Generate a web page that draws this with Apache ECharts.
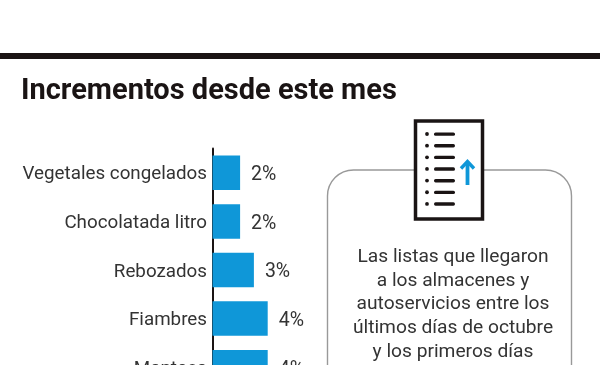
<!DOCTYPE html>
<html><head><meta charset="utf-8">
<style>html,body{margin:0;padding:0;background:#fff}#c{width:600px;height:365px}</style>
<script src="https://cdn.jsdelivr.net/npm/echarts@6/dist/echarts.min.js"></script>
</head><body><div id="c"></div>
<script>
const titleText = 'Incrementos desde este mes';
const categories = ['Vegetales congelados','Chocolatada litro','Rebozados','Fiambres','Manteca'];
const values = [2,2,3,4,4];
const noteLines = ['Las listas que llegaron','a los almacenes y','autoservicios entre los','últimos días de octubre','y los primeros días'];
const FONT = 'Roboto';
const INK = '#1a1414', TXT = '#333333', BLUE = '#0f97d8';
const chart = echarts.init(document.getElementById('c'), null, {renderer:'canvas'});
const iconRows = [0,1,2,3,4,5,6];
const graphic = [
  {type:'rect', shape:{x:0,y:53,width:600,height:6}, style:{fill:INK}},
  {type:'text', x:21, y:92, style:{text:titleText, fill:INK, font:'bold 29px '+FONT, textVerticalAlign:'middle'}},
  {type:'rect', shape:{x:327.5,y:170,width:244,height:260,r:26}, style:{fill:'#fff',stroke:'#999999',lineWidth:1.4}},
  {type:'rect', shape:{x:415.5,y:121,width:67,height:98}, style:{fill:'#fff',stroke:INK,lineWidth:3.5}},
];
iconRows.forEach(i=>{
  const y = 134 + i*11.65;
  graphic.push({type:'circle', shape:{cx:427,cy:y,r:1.9}, style:{fill:INK}});
  graphic.push({type:'rect', shape:{x:434,y:y-1.6,width:21,height:3.4,r:1.6}, style:{fill:INK}});
});
graphic.push({type:'polyline', shape:{points:[[467.5,185],[467.5,163]]}, style:{stroke:BLUE,lineWidth:3.8,fill:null}});
graphic.push({type:'polyline', shape:{points:[[461,168.5],[467.5,161.5],[474,168.5]]}, style:{stroke:BLUE,lineWidth:3.4,fill:null}});
noteLines.forEach((t,i)=>graphic.push({type:'text', x:453, y:257+i*23.7,
  style:{text:t, fill:TXT, font:'19.2px '+FONT, textAlign:'center', textVerticalAlign:'middle'}}));
chart.setOption({
  animation:false,
  backgroundColor:'#fff',
  grid:{left:212.5,top:148.5,width:138,height:243,outerBoundsMode:'none'},
  xAxis:{type:'value',min:0,max:10,show:false},
  yAxis:{type:'category',inverse:true,data:categories,
    axisLine:{show:true,onZero:false,lineStyle:{color:INK,width:2}},
    axisTick:{show:false},
    axisLabel:{margin:5.5,formatter:v=>'{a|'+v+'}',
      rich:{a:{color:TXT,fontFamily:FONT,fontSize:18.8,padding:[4,0,0,0]}}}},
  series:[{type:'bar',data:values,barWidth:34.5,
    itemStyle:{color:BLUE},
    label:{show:true,position:'right',distance:11,offset:[0,2.5],formatter:'{c}%',color:TXT,fontFamily:FONT,fontSize:19.5}}],
  graphic:graphic
});
</script></body></html>
